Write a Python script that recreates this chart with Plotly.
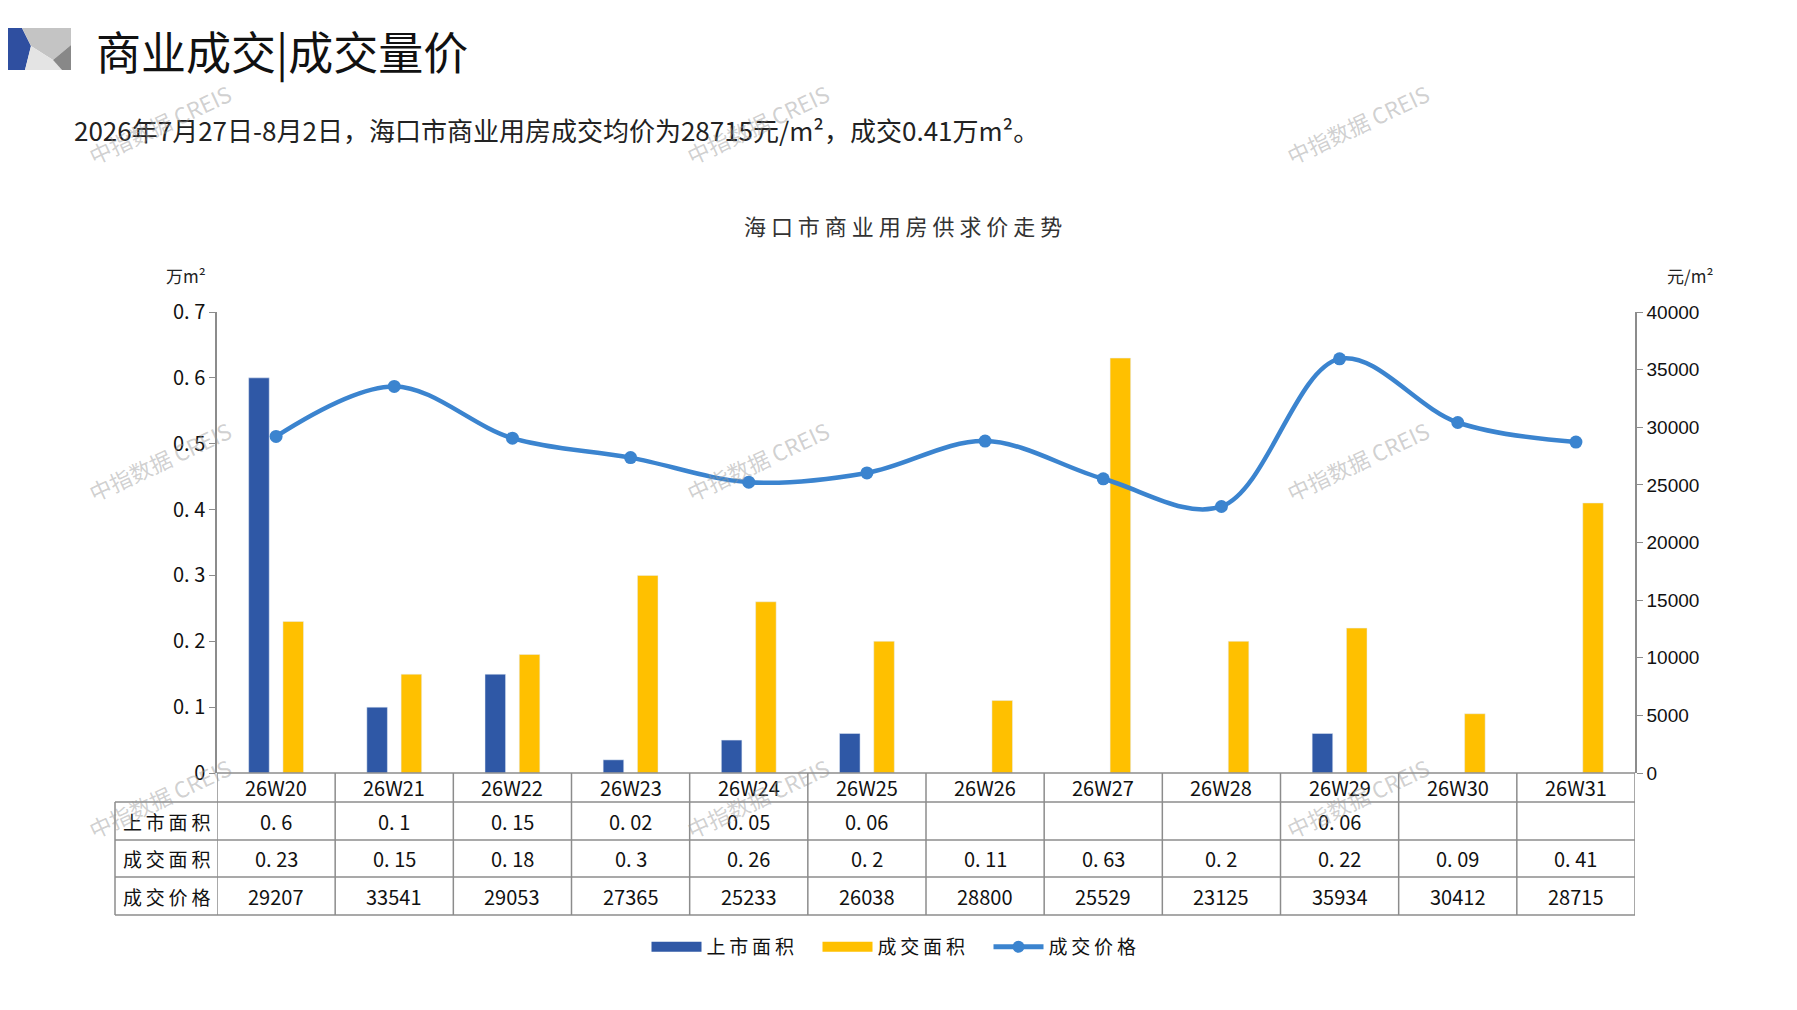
import plotly.graph_objects as go

# data
weeks = ['26W20', '26W21', '26W22', '26W23', '26W24', '26W25',
         '26W26', '26W27', '26W28', '26W29', '26W30', '26W31']
supply = [0.6, 0.1, 0.15, 0.02, 0.05, 0.06, None, None, None, 0.06, None, None]
deal_area = [0.23, 0.15, 0.18, 0.3, 0.26, 0.2, 0.11, 0.63, 0.2, 0.22, 0.09, 0.41]
deal_price = [29207, 33541, 29053, 27365, 25233, 26038, 28800, 25529, 23125, 35934, 30412, 28715]

left_ticks = [0, 0.1, 0.2, 0.3, 0.4, 0.5, 0.6, 0.7]
left_text = ['0', '0. 1', '0. 2', '0. 3', '0. 4', '0. 5', '0. 6', '0. 7']
right_ticks = [0, 5000, 10000, 15000, 20000, 25000, 30000, 35000, 40000]

row_names = ['上市面积', '成交面积', '成交价格']

# page geometry (pixels, page coords); the page body has an 8px margin
W, H = 1797, 1010
OFF = 8
PL, PR, PT, PB = 217, 1635, 312, 773
BLUE = '#2F58A6'
YELLOW = '#FFC000'
LINE = '#3B84CF'
GRID = '#8C8C8C'
FONT = 'Noto Sans CJK SC'


def px(x):
    return (x - PL) / (PR - PL)


def py(y):
    return (PB - y) / (PB - PT)


def spaced(s):
    return '\u2009'.join(s)


def note(x, y, text, size, color='#111111', family=FONT, xanchor='center', **kw):
    return dict(x=px(x), y=py(y), xref='paper', yref='paper', xanchor=xanchor,
                yanchor='middle', text=text, showarrow=False,
                font=dict(family=family, size=size, color=color), **kw)


fig = go.Figure()
fig.add_trace(go.Bar(x=weeks, y=supply, name='上市面积', marker_color=BLUE, showlegend=False))
fig.add_trace(go.Bar(x=weeks, y=deal_area, name='成交面积', marker_color=YELLOW, showlegend=False))
fig.add_trace(go.Scatter(x=weeks, y=deal_price, name='成交价格', yaxis='y2',
                         mode='lines+markers', showlegend=False,
                         line=dict(color=LINE, width=4.5, shape='spline', smoothing=1.0),
                         marker=dict(color=LINE, size=13)))

# legend entries (wide swatches like the original)
fig.add_trace(go.Scatter(x=[None], y=[None], name=spaced('上市面积'), mode='lines',
                         line=dict(color=BLUE, width=10)))
fig.add_trace(go.Scatter(x=[None], y=[None], name=spaced('成交面积'), mode='lines',
                         line=dict(color=YELLOW, width=10)))
fig.add_trace(go.Scatter(x=[None], y=[None], name=spaced('成交价格'), mode='lines+markers',
                         line=dict(color=LINE, width=5), marker=dict(color=LINE, size=12)))

shapes = []
annotations = []

# table grid
row_y = [773, 802, 840, 877, 915]
line_style = dict(color=GRID, width=1.5)
shapes.append(dict(type='line', xref='paper', yref='paper', x0=0, x1=1,
                   y0=py(row_y[0]), y1=py(row_y[0]), line=line_style))
for y in row_y[1:]:
    shapes.append(dict(type='line', xref='paper', yref='paper', x0=px(115), x1=1,
                       y0=py(y), y1=py(y), line=line_style))
for i in range(len(weeks) + 1):
    shapes.append(dict(type='line', xref='x', yref='paper', x0=i - 0.5, x1=i - 0.5,
                       y0=py(row_y[0]), y1=py(row_y[-1]), line=line_style))
shapes.append(dict(type='line', xref='paper', yref='paper', x0=px(115), x1=px(115),
                   y0=py(row_y[1]), y1=py(row_y[-1]), line=line_style))

cell_font = dict(family=FONT, size=20, color='#111111')
for i, w in enumerate(weeks):
    annotations.append(dict(x=w, xref='x', y=py((row_y[0] + row_y[1]) / 2), yref='paper',
                            xanchor='center', yanchor='middle',
                            text=w, showarrow=False, font=cell_font))
    rows = [supply[i], deal_area[i], deal_price[i]]
    for r, v in enumerate(rows):
        if v is None:
            continue
        yc = (row_y[r + 1] + row_y[r + 2]) / 2
        annotations.append(dict(x=w, xref='x', y=py(yc), yref='paper',
                                xanchor='center', yanchor='middle',
                                text=str(v).replace('.', '. '), showarrow=False, font=cell_font))
for r, name in enumerate(row_names):
    yc = (row_y[r + 1] + row_y[r + 2]) / 2
    annotations.append(note(166, yc, spaced(name), 19))


# header decoration
def poly(pts, color):
    path = 'M ' + ' L '.join(f'{px(a)},{py(b)}' for a, b in pts) + ' Z'
    return dict(type='path', xref='paper', yref='paper', path=path,
                fillcolor=color, line=dict(width=0), layer='above')


shapes.append(poly([(0, 28), (22, 28), (31, 46), (25, 70), (0, 70)], '#2F4FA0'))
shapes.append(poly([(22, 28), (71, 28), (71, 45), (53, 60), (31, 46)], '#C4C4C4'))
shapes.append(poly([(31, 46), (53, 60), (62, 70), (25, 70)], '#E4E4E4'))
shapes.append(poly([(71, 45), (71, 70), (62, 70), (53, 60)], '#888888'))

# texts
annotations += [
    note(94, 50, '商业成交|成交量价', 45, xanchor='left'),
    note(72, 130, '2026年7月27日-8月2日，海口市商业用房成交均价为28715元/m²，成交0.41万m²。',
         26, color='#222222', xanchor='left'),
    note(903, 225, '海 口 市 商 业 用 房 供 求 价 走 势', 22, color='#333333'),
    note(164, 275, '万m²', 17, color='#222222', xanchor='left'),
    note(1665, 275, '元/m²', 17, color='#222222', xanchor='left'),
]

# watermarks
for wx in [159, 757, 1357]:
    for wy in [124, 461, 798]:
        annotations.append(note(wx, wy, '中指数据 CREIS', 22, color='rgba(150,150,150,0.45)',
                                textangle=-25))

fig.update_layout(
    width=W - OFF, height=H - OFF,
    margin=dict(l=PL - OFF, r=W - PR, t=PT - OFF, b=H - PB),
    paper_bgcolor='white', plot_bgcolor='white',
    barmode='group', bargap=0.42, bargroupgap=0.4,
    font=dict(family=FONT, size=19, color='#111111'),
    xaxis=dict(range=[-0.5, len(weeks) - 0.5], showticklabels=False, ticks='',
               showline=False, showgrid=False, zeroline=False),
    yaxis=dict(range=[0, 0.7], tickvals=left_ticks, ticktext=left_text,
               showline=True, linecolor=GRID, linewidth=1.5, ticks='outside',
               tickcolor=GRID, ticklen=6, showgrid=False, zeroline=False,
               tickfont=dict(family=FONT, size=20)),
    yaxis2=dict(range=[0, 40000], tickvals=right_ticks, tickformat='d',
                overlaying='y', side='right',
                showline=True, linecolor=GRID, linewidth=1.5, ticks='outside',
                tickcolor=GRID, ticklen=6, showgrid=False, zeroline=False,
                tickfont=dict(family='Liberation Sans', size=19)),
    legend=dict(orientation='h', x=px(903), xanchor='center', y=py(947), yanchor='middle',
                font=dict(family=FONT, size=19), itemwidth=50, traceorder='normal',
                entrywidth=106, entrywidthmode='pixels'),
    shapes=shapes,
    annotations=annotations,
)

fig.write_html('out.html')
